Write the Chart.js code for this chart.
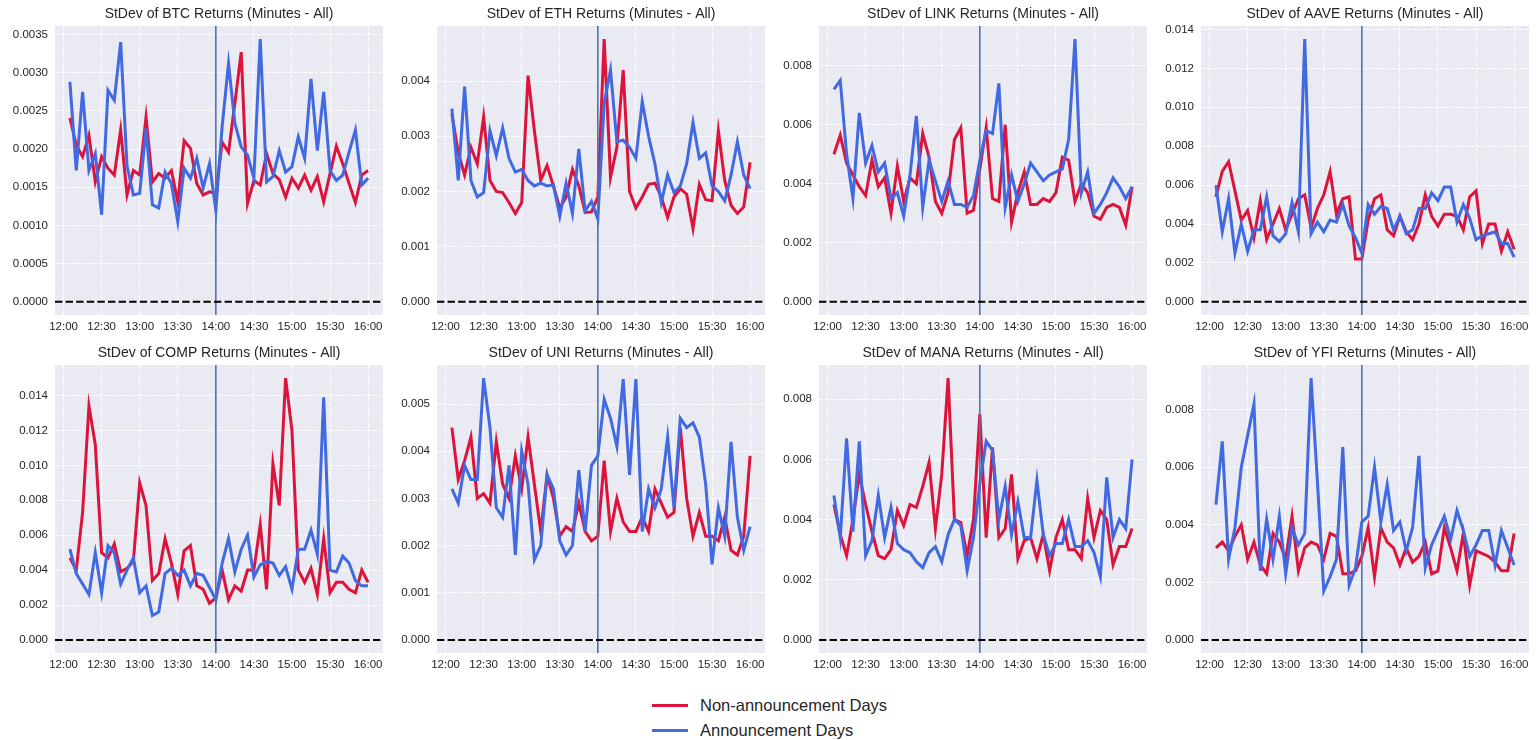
<!DOCTYPE html>
<html>
<head>
<meta charset="utf-8">
<script src="https://cdn.jsdelivr.net/npm/chart.js@4.4.0/dist/chart.umd.min.js"></script>
<style>
  body { margin: 0; background: #fff; width: 1537px; height: 740px; overflow: hidden; position: relative;
         font-family: "Liberation Sans", Arial, sans-serif; }
  .panel { position: absolute; }
  #legend { position: absolute; left: 652px; top: 693px; color: #262626; font-size: 16.5px; }
  .item { height: 25px; display: flex; align-items: center; }
  .swatch { width: 36px; height: 3px; margin-right: 12px; }
</style>
</head>
<body>
<div id="legend">
  <div class="item"><span class="swatch" style="background:#DC143C"></span>Non-announcement Days</div>
  <div class="item"><span class="swatch" style="background:#4169E1"></span>Announcement Days</div>
</div>
<script>
// 5-minute buckets from 12:05 to 16:00
const times = ["12:05","12:10","12:15","12:20","12:25","12:30","12:35","12:40","12:45","12:50","12:55","13:00",
  "13:05","13:10","13:15","13:20","13:25","13:30","13:35","13:40","13:45","13:50","13:55","14:00",
  "14:05","14:10","14:15","14:20","14:25","14:30","14:35","14:40","14:45","14:50","14:55","15:00",
  "15:05","15:10","15:15","15:20","15:25","15:30","15:35","15:40","15:45","15:50","15:55","16:00"];
const xTicks = ["12:00","12:30","13:00","13:30","14:00","14:30","15:00","15:30","16:00"];
const eventTime = "14:00";

const coins = ["BTC", "ETH", "LINK", "AAVE", "COMP", "UNI", "MANA", "YFI"];
const yStep = [0.0005, 0.001, 0.002, 0.002, 0.002, 0.001, 0.002, 0.002];
const yDecimals = [4, 3, 3, 3, 3, 3, 3, 3];

const btcNon = [0.00241,0.00205,0.0019,0.00218,0.00157,0.0019,0.00175,0.00166,0.00225,0.0014,0.00172,0.00166,
  0.00242,0.00157,0.00168,0.00162,0.00172,0.00131,0.00211,0.00201,0.00155,0.0014,0.00144,0.00142,
  0.00209,0.00196,0.0026,0.00327,0.00129,0.00159,0.00153,0.00194,0.00168,0.0016,0.00137,0.00162,
  0.00149,0.00166,0.00146,0.00164,0.00131,0.00168,0.00204,0.00181,0.00155,0.0013,0.00166,0.00172];
const btcAnn = [0.00288,0.00172,0.00275,0.00172,0.00194,0.00114,0.00277,0.00264,0.0034,0.00178,0.0014,0.00142,
  0.00227,0.00127,0.00123,0.0017,0.00155,0.00105,0.00175,0.00162,0.00188,0.00149,0.00181,0.0012,
  0.0023,0.00312,0.00234,0.00203,0.00192,0.00162,0.00344,0.00157,0.00164,0.00198,0.0017,0.00177,
  0.00216,0.00188,0.00292,0.00198,0.00275,0.00172,0.00159,0.00166,0.00196,0.00225,0.00153,0.00162];

const ethNon = [0.0034,0.0027,0.0023,0.0028,0.0025,0.00335,0.0022,0.002,0.00198,0.0018,0.0016,0.0018,
  0.0041,0.0031,0.0022,0.00247,0.0021,0.0017,0.0019,0.0024,0.0021,0.00162,0.00163,0.0019,
  0.00476,0.00225,0.0028,0.0042,0.002,0.0017,0.0019,0.00213,0.00215,0.0019,0.00153,0.0019,
  0.00205,0.00195,0.00133,0.00213,0.00185,0.00183,0.0031,0.0022,0.00175,0.0016,0.00172,0.00253];
const ethAnn = [0.0035,0.0022,0.0039,0.0022,0.0019,0.00198,0.0031,0.00265,0.00315,0.0026,0.00235,0.0024,
  0.0022,0.0021,0.00215,0.0021,0.00212,0.00155,0.00215,0.0016,0.00277,0.00165,0.00182,0.0015,
  0.0036,0.0042,0.0029,0.00293,0.0028,0.0026,0.00363,0.003,0.0025,0.0018,0.0023,0.00198,
  0.0021,0.0025,0.00325,0.0026,0.0027,0.0021,0.002,0.00183,0.0023,0.0029,0.0023,0.00205];

const linkNon = [0.0050,0.00565,0.0047,0.0043,0.0039,0.0036,0.0048,0.0039,0.0042,0.0030,0.0046,0.0034,
  0.0042,0.0040,0.0057,0.0049,0.0034,0.0030,0.0037,0.0055,0.0059,0.0030,0.0031,0.0045,
  0.0059,0.0035,0.0034,0.0060,0.0027,0.0037,0.0044,0.0033,0.0033,0.0035,0.0034,0.0037,
  0.0049,0.0048,0.0034,0.0040,0.0037,0.0029,0.0028,0.0032,0.0033,0.0032,0.0026,0.0039];
const linkAnn = [0.0072,0.0075,0.0050,0.0035,0.0064,0.0047,0.0053,0.0044,0.0047,0.0035,0.0037,0.0029,
  0.0043,0.0063,0.0032,0.0048,0.0041,0.0034,0.0041,0.0033,0.0033,0.0032,0.0036,0.0048,
  0.0058,0.0057,0.0074,0.0032,0.0043,0.0034,0.0040,0.0047,0.0044,0.0041,0.0043,0.0044,
  0.0045,0.0055,0.0089,0.0037,0.0044,0.0030,0.0033,0.0037,0.0042,0.0039,0.0035,0.0039];

const aaveNon = [0.0054,0.0067,0.0072,0.0057,0.0042,0.0047,0.0033,0.0052,0.0032,0.0040,0.0048,0.0037,
  0.0045,0.0053,0.0055,0.0038,0.0048,0.0055,0.0067,0.0045,0.0053,0.0054,0.0022,0.0022,
  0.0042,0.0053,0.0055,0.0037,0.0034,0.0044,0.0036,0.0032,0.0040,0.0055,0.0044,0.0039,
  0.0045,0.0045,0.0044,0.0037,0.0054,0.0057,0.0030,0.0040,0.0040,0.0026,0.0036,0.0027];
const aaveAnn = [0.0060,0.0036,0.0053,0.0025,0.0040,0.0026,0.0037,0.0037,0.0054,0.0034,0.0031,0.0035,
  0.0051,0.0036,0.0135,0.0035,0.0041,0.0036,0.0042,0.0041,0.0050,0.0039,0.0033,0.0025,
  0.0050,0.0045,0.0049,0.0048,0.0037,0.0044,0.0035,0.0037,0.0048,0.0048,0.0056,0.0052,
  0.0059,0.0059,0.0041,0.0050,0.0043,0.0032,0.0034,0.0035,0.0036,0.0030,0.0030,0.0023];

const compNon = [0.0047,0.0040,0.0073,0.0134,0.0112,0.0050,0.0047,0.0055,0.0039,0.0041,0.0045,0.0090,
  0.0077,0.0034,0.0038,0.0058,0.0044,0.0026,0.0051,0.0054,0.0031,0.0029,0.0021,0.0024,
  0.0040,0.0023,0.0031,0.0028,0.0040,0.0040,0.0066,0.0029,0.0101,0.0077,0.0150,0.0120,
  0.0040,0.0033,0.0041,0.0026,0.0058,0.0027,0.0033,0.0033,0.0029,0.0027,0.0040,0.0033];
const compAnn = [0.0052,0.0038,0.0032,0.0026,0.0050,0.0027,0.0054,0.0050,0.0032,0.0040,0.0047,0.0027,
  0.0031,0.0014,0.0016,0.0038,0.0041,0.0037,0.0040,0.0031,0.0038,0.0037,0.0030,0.0023,
  0.0044,0.0058,0.0039,0.0052,0.0060,0.0036,0.0043,0.0045,0.0044,0.0037,0.0042,0.0029,
  0.0052,0.0052,0.0063,0.0049,0.0139,0.0040,0.0039,0.0048,0.0044,0.0034,0.0031,0.0031];

const uniNon = [0.0045,0.0034,0.0038,0.0043,0.0030,0.0031,0.0029,0.0042,0.0033,0.0030,0.0039,0.0032,
  0.0043,0.0033,0.0023,0.0035,0.0030,0.0022,0.0024,0.0023,0.0029,0.0023,0.0021,0.0022,
  0.0038,0.0023,0.0030,0.0025,0.0023,0.0023,0.0026,0.0023,0.0032,0.0029,0.0026,0.0027,
  0.0045,0.0030,0.0022,0.0027,0.0022,0.0022,0.0021,0.0026,0.0019,0.0018,0.0022,0.0039];
const uniAnn = [0.0032,0.0029,0.0037,0.0034,0.0034,0.00555,0.0045,0.0028,0.0026,0.0037,0.0018,0.0040,
  0.0033,0.0017,0.0020,0.0035,0.0032,0.0021,0.0018,0.0020,0.0036,0.0023,0.0037,0.0039,
  0.0051,0.0047,0.0041,0.00553,0.0035,0.00553,0.0023,0.0032,0.0028,0.0032,0.0043,0.0028,
  0.0047,0.0045,0.0046,0.0043,0.0033,0.0016,0.0028,0.0022,0.0042,0.0026,0.0019,0.0024];

const manaNon = [0.0045,0.0035,0.0028,0.0040,0.0055,0.0045,0.0036,0.0028,0.0027,0.0030,0.0043,0.0038,
  0.0045,0.0044,0.0051,0.0059,0.0037,0.0055,0.0087,0.0040,0.0039,0.0028,0.0040,0.0075,
  0.0034,0.0064,0.0034,0.0037,0.0055,0.0027,0.0033,0.0034,0.0027,0.0035,0.0023,0.0034,
  0.0040,0.0030,0.0030,0.0027,0.0047,0.0034,0.0043,0.0040,0.0025,0.0031,0.0031,0.0037];
const manaAnn = [0.0048,0.0034,0.0067,0.0036,0.0066,0.0028,0.0033,0.0048,0.0034,0.0044,0.0032,0.0030,
  0.0029,0.0026,0.0024,0.0029,0.0031,0.0026,0.0035,0.0040,0.0038,0.0023,0.0034,0.0052,
  0.0066,0.0063,0.0040,0.0051,0.0035,0.0046,0.0034,0.0034,0.0053,0.0035,0.0028,0.0032,
  0.0032,0.0040,0.0031,0.0031,0.0033,0.0029,0.0021,0.0054,0.0034,0.0040,0.0037,0.0060];

const yfiNon = [0.0032,0.0034,0.0031,0.0036,0.0040,0.0028,0.0034,0.0026,0.0023,0.0037,0.0034,0.0028,
  0.0043,0.0024,0.0032,0.0034,0.0033,0.0028,0.0037,0.0036,0.0023,0.0023,0.0024,0.0029,
  0.0039,0.0022,0.0039,0.0034,0.0032,0.0026,0.0032,0.0027,0.0029,0.0034,0.0023,0.0024,
  0.0039,0.0032,0.0024,0.0037,0.0019,0.0031,0.0030,0.0029,0.0027,0.0024,0.0024,0.0037];
const yfiAnn = [0.0047,0.0069,0.0028,0.0039,0.0060,0.0071,0.0082,0.0024,0.0042,0.0028,0.0043,0.0023,
  0.0039,0.0033,0.0037,0.0091,0.0055,0.0017,0.0022,0.0028,0.0067,0.0019,0.0025,0.0041,
  0.0043,0.0060,0.0041,0.0054,0.0038,0.0041,0.0031,0.0039,0.0064,0.0025,0.0033,0.0038,
  0.0043,0.0035,0.0045,0.0038,0.0029,0.0033,0.0038,0.0038,0.0026,0.0038,0.0032,0.0026];

const nonSeries = [btcNon, ethNon, linkNon, aaveNon, compNon, uniNon, manaNon, yfiNon];
const annSeries = [btcAnn, ethAnn, linkAnn, aaveAnn, compAnn, uniAnn, manaAnn, yfiAnn];

const FONT = '"Liberation Sans", Arial, sans-serif';
const TEXT = '#262626';
const plotLeft = [55, 437, 819, 1201];

// minutes after 12:00
const toMin = t => { const [h, m] = t.split(':').map(Number); return (h - 12) * 60 + m; };
const fmtMin = v => { const h = 12 + Math.floor(v / 60), m = v % 60; return h + ':' + String(m).padStart(2, '0'); };

const xs = times.map(toMin);
const xPad = (xs[xs.length - 1] - xs[0]) * 0.05;
const xMin = xs[0] - xPad, xMax = xs[xs.length - 1] + xPad;

const decor = {
  id: 'decor',
  beforeDraw(chart) {
    const { ctx, chartArea: a } = chart;
    ctx.save();
    ctx.fillStyle = '#EAEAF2';
    ctx.fillRect(a.left, a.top, a.right - a.left, a.bottom - a.top);
    ctx.restore();
  },
  afterDatasetsDraw(chart) {
    const { ctx, chartArea: a, scales: { x, y } } = chart;
    ctx.save();
    ctx.beginPath();
    ctx.rect(a.left, a.top, a.right - a.left, a.bottom - a.top);
    ctx.clip();
    // event line
    const xe = x.getPixelForValue(toMin(eventTime));
    ctx.strokeStyle = '#4C72B0';
    ctx.lineWidth = 1.6;
    ctx.beginPath();
    ctx.moveTo(xe, a.top);
    ctx.lineTo(xe, a.bottom);
    ctx.stroke();
    // zero line
    const y0 = y.getPixelForValue(0);
    ctx.strokeStyle = '#000';
    ctx.lineWidth = 2;
    ctx.setLineDash([7.4, 3.2]);
    ctx.beginPath();
    ctx.moveTo(a.left, y0);
    ctx.lineTo(a.right, y0);
    ctx.stroke();
    ctx.restore();
  },
  afterDraw(chart) {
    const { ctx, chartArea: a } = chart;
    ctx.save();
    ctx.fillStyle = TEXT;
    ctx.font = '14px ' + FONT;
    ctx.textAlign = 'center';
    ctx.textBaseline = 'middle';
    ctx.fillText(chart.options.plugins.decor.title, (a.left + a.right) / 2, a.top - 11.5);
    ctx.restore();
  }
};

coins.forEach((coin, k) => {
  const col = k % 4, row = Math.floor(k / 4);
  const div = document.createElement('div');
  div.className = 'panel';
  div.style.left = (plotLeft[col] - 55) + 'px';
  div.style.top = (row === 0 ? 0 : 339) + 'px';
  div.style.width = '383px';
  div.style.height = (row === 0 ? 340 : 339) + 'px';
  const canvas = document.createElement('canvas');
  div.appendChild(canvas);
  document.body.appendChild(div);

  const non = nonSeries[k], ann = annSeries[k];
  const top = Math.max(...non, ...ann);
  const yMin = -0.05 * top, yMax = 1.05 * top;

  new Chart(canvas, {
    type: 'line',
    data: {
      datasets: [
        { label: 'Announcement Days', data: xs.map((x, i) => ({ x, y: ann[i] })),
          borderColor: '#4169E1', borderWidth: 3, pointRadius: 0, tension: 0 },
        { label: 'Non-announcement Days', data: xs.map((x, i) => ({ x, y: non[i] })),
          borderColor: '#DC143C', borderWidth: 3, pointRadius: 0, tension: 0 }
      ]
    },
    options: {
      responsive: true,
      maintainAspectRatio: false,
      animation: false,
      layout: { padding: { top: 26, left: 0, right: 0, bottom: 0 } },
      plugins: {
        legend: { display: false },
        tooltip: { enabled: false },
        decor: { title: 'StDev of ' + coin + ' Returns (Minutes - All)' }
      },
      scales: {
        x: {
          type: 'linear', min: xMin, max: xMax,
          afterBuildTicks: s => { s.ticks = xTicks.map(t => ({ value: toMin(t) })); },
          afterFit: s => { s.height = 25; s.paddingLeft = 0; s.paddingRight = 0; },
          grid: { color: '#fff', lineWidth: 1, drawTicks: false },
          border: { display: false, dash: [3.7, 1.6] },
          ticks: { padding: 5, color: TEXT, font: { size: 11.5, family: FONT }, maxRotation: 0,
                   autoSkip: false, callback: v => fmtMin(v) }
        },
        y: {
          min: yMin, max: yMax,
          afterBuildTicks: s => {
            const t = [];
            for (let j = 0; j * yStep[k] <= yMax; j++) t.push({ value: j * yStep[k] });
            s.ticks = t;
          },
          afterFit: s => { s.width = 55; s.paddingTop = 0; s.paddingBottom = 0; },
          grid: { color: '#fff', lineWidth: 1, drawTicks: false },
          border: { display: false, dash: [3.7, 1.6] },
          ticks: { padding: 7, color: TEXT, font: { size: 11.5, family: FONT },
                   callback: v => v.toFixed(yDecimals[k]) }
        }
      }
    },
    plugins: [decor]
  });
});
</script>
</body>
</html>
